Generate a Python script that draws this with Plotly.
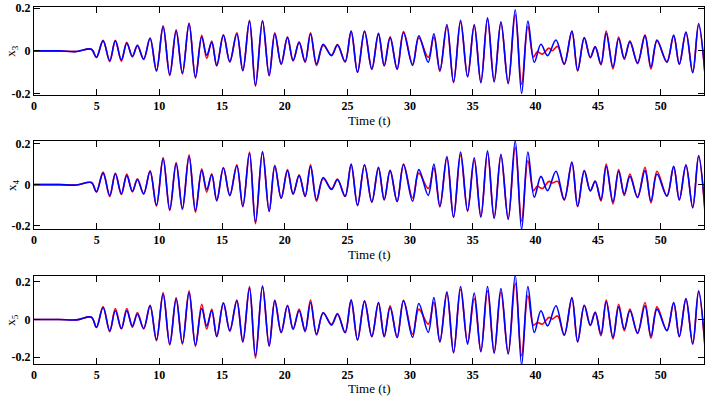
import plotly.graph_objects as go
from plotly.subplots import make_subplots

# --- データ（ピーク・谷の読み取り値） ---
# 共通の時刻（発散区間の前後）
t_pre = [0, 2.0, 3.4, 4.58, 4.98, 5.51, 6.04, 6.49, 6.97, 7.40, 7.85, 8.25, 8.75, 9.26,
         9.77, 10.30, 10.83, 11.34, 11.84, 12.37, 12.88, 13.38, 13.78, 14.18,
         14.58, 15.11, 15.62, 16.18, 16.66, 17.19, 17.67, 18.23, 18.76, 19.21,
         19.72, 20.22, 20.67, 21.15, 21.63, 22.06, 22.54, 23.07, 23.73, 24.21,
         24.82, 25.30, 25.81, 26.37, 26.95, 27.48, 27.94, 28.41, 28.97, 29.48,
         30.20, 30.70, 31.45, 31.90, 32.38, 32.94, 33.47, 34.03, 34.59, 35.12,
         35.65, 36.18, 36.71, 37.25, 37.83, 38.39, 38.90, 39.40]
t_post = [42.30, 42.91, 43.37, 43.90, 44.38, 44.77, 45.23, 45.65, 46.19, 46.64, 47.09,
          47.54, 48.15, 48.74, 49.22, 49.70, 50.49, 51.03, 51.48, 52.01, 52.55, 53.02, 53.53]
# 40 付近で赤と青が離れる区間
t_mid_blue = [39.91, 40.44, 40.97, 41.64]
t_mid_red = [39.85, 40.15, 40.55, 41.08, 41.35, 41.77]

# x3
x3_blue_pre = [0, 0, -0.003, 0.008, -0.03, 0.047, -0.045, 0.047, -0.042, 0.036,
               -0.025, 0.024, -0.038, 0.059, -0.091, 0.113, -0.111, 0.093, -0.103, 0.126,
               -0.122, 0.065, -0.02, 0.04, -0.068, 0.073, -0.05, 0.08, -0.091, 0.139,
               -0.16, 0.139, -0.114, 0.08, -0.061, 0.062, -0.045, 0.039, -0.05, 0.08,
               -0.061, 0.031, -0.022, 0.027, -0.05, 0.093, -0.099, 0.093, -0.084, 0.082,
               -0.068, 0.062, -0.084, 0.085, -0.068, 0.07, -0.053, 0.08, -0.091, 0.123,
               -0.145, 0.143, -0.122, 0.123, -0.149, 0.154, -0.145, 0.136, -0.153, 0.192,
               -0.199, 0.139]
x3_red_pre = [0, 0, -0.003, 0.008, -0.03, 0.05, -0.05, 0.05, -0.048, 0.04,
              -0.028, 0.027, -0.04, 0.06, -0.095, 0.117, -0.115, 0.098, -0.108, 0.13,
              -0.127, 0.073, -0.035, 0.046, -0.07, 0.075, -0.052, 0.085, -0.093, 0.143,
              -0.165, 0.142, -0.116, 0.085, -0.063, 0.066, -0.047, 0.042, -0.053, 0.085,
              -0.068, 0.025, -0.02, 0.03, -0.052, 0.09, -0.1, 0.09, -0.086, 0.078,
              -0.07, 0.066, -0.086, 0.09, -0.062, 0.06, -0.03, 0.065, -0.095, 0.115,
              -0.148, 0.135, -0.118, 0.118, -0.145, 0.148, -0.14, 0.13, -0.148, 0.169,
              -0.155, 0.114]
x3_blue_mid = [-0.053, 0.031, -0.022, 0.051]
x3_red_mid = [-0.028, -0.004, -0.015, 0.013, 0.001, 0.021]
x3_blue_post = [-0.061, 0.093, -0.091, 0.062, -0.03, 0.019, -0.061, 0.082, -0.076, 0.057,
                -0.034, 0.042, -0.056, 0.07, -0.076, 0.051, -0.053, 0.074, -0.061, 0.088,
                -0.102, 0.128, -0.107]
x3_red_post = [-0.063, 0.09, -0.093, 0.06, -0.032, 0.02, -0.065, 0.093, -0.084, 0.065,
               -0.04, 0.047, -0.06, 0.075, -0.084, 0.046, -0.05, 0.07, -0.063, 0.085,
               -0.1, 0.12, -0.112]

# x4
x4_blue_pre = [0, 0, -0.002, 0.01, -0.035, 0.056, -0.052, 0.052, -0.044, 0.044,
               -0.032, 0.024, -0.044, 0.065, -0.1, 0.126, -0.121, 0.102, -0.116, 0.137,
               -0.126, 0.068, -0.024, 0.048, -0.077, 0.081, -0.052, 0.092, -0.105, 0.153,
               -0.181, 0.158, -0.129, 0.089, -0.065, 0.068, -0.045, 0.044, -0.056, 0.089,
               -0.073, 0.035, -0.024, 0.024, -0.056, 0.1, -0.1, 0.097, -0.084, 0.084,
               -0.073, 0.068, -0.081, 0.097, -0.081, 0.073, -0.052, 0.1, -0.105, 0.137,
               -0.158, 0.158, -0.126, 0.13, -0.158, 0.165, -0.165, 0.148, -0.169, 0.213,
               -0.218, 0.158]
x4_red_pre = [0, 0, -0.002, 0.01, -0.035, 0.061, -0.058, 0.056, -0.048, 0.052,
              -0.035, 0.029, -0.046, 0.067, -0.104, 0.132, -0.126, 0.108, -0.121, 0.145,
              -0.134, 0.077, -0.037, 0.053, -0.079, 0.083, -0.054, 0.097, -0.107, 0.158,
              -0.19, 0.161, -0.131, 0.094, -0.067, 0.073, -0.047, 0.048, -0.058, 0.097,
              -0.081, 0.03, -0.02, 0.027, -0.058, 0.097, -0.102, 0.094, -0.086, 0.08,
              -0.075, 0.07, -0.083, 0.1, -0.065, 0.056, -0.019, 0.081, -0.108, 0.13,
              -0.16, 0.145, -0.13, 0.12, -0.155, 0.155, -0.16, 0.14, -0.165, 0.181,
              -0.177, 0.116]
x4_blue_mid = [-0.061, 0.04, -0.029, 0.065]
x4_red_mid = [-0.029, -0.008, -0.019, 0.016, 0.008, 0.016]
x4_blue_post = [-0.073, 0.11, -0.105, 0.068, -0.029, 0.016, -0.073, 0.089, -0.084, 0.065,
                -0.045, 0.04, -0.061, 0.068, -0.081, 0.052, -0.056, 0.089, -0.073, 0.097,
                -0.113, 0.142, -0.121]
x4_red_post = [-0.075, 0.105, -0.107, 0.066, -0.031, 0.018, -0.079, 0.1, -0.094, 0.073,
               -0.053, 0.052, -0.064, 0.084, -0.089, 0.065, -0.054, 0.085, -0.075, 0.093,
               -0.11, 0.135, -0.137]

# x5
x5_blue_pre = [0, 0, -0.002, 0.012, -0.042, 0.064, -0.06, 0.046, -0.048, 0.046,
               -0.034, 0.028, -0.048, 0.073, -0.108, 0.134, -0.131, 0.108, -0.126, 0.143,
               -0.136, 0.058, -0.034, 0.046, -0.09, 0.087, -0.06, 0.099, -0.118, 0.167,
               -0.193, 0.175, -0.14, 0.099, -0.069, 0.073, -0.051, 0.046, -0.06, 0.09,
               -0.078, 0.037, -0.03, 0.028, -0.069, 0.104, -0.108, 0.099, -0.09, 0.09,
               -0.09, 0.064, -0.095, 0.099, -0.095, 0.085, -0.069, 0.117, -0.118, 0.147,
               -0.175, 0.175, -0.131, 0.14, -0.172, 0.175, -0.179, 0.164, -0.184, 0.235,
               -0.242, 0.175]
x5_red_pre = [0, 0, -0.002, 0.012, -0.042, 0.069, -0.065, 0.058, -0.051, 0.058,
              -0.042, 0.037, -0.05, 0.075, -0.113, 0.143, -0.136, 0.117, -0.131, 0.152,
              -0.143, 0.081, -0.051, 0.055, -0.092, 0.089, -0.062, 0.103, -0.12, 0.175,
              -0.205, 0.179, -0.142, 0.103, -0.071, 0.076, -0.053, 0.055, -0.065, 0.103,
              -0.083, 0.033, -0.026, 0.031, -0.071, 0.1, -0.11, 0.095, -0.092, 0.086,
              -0.092, 0.073, -0.097, 0.102, -0.078, 0.055, -0.025, 0.09, -0.12, 0.14,
              -0.178, 0.161, -0.122, 0.111, -0.168, 0.152, -0.175, 0.147, -0.18, 0.193,
              -0.193, 0.126]
x5_blue_mid = [-0.069, 0.046, -0.034, 0.073]
x5_red_mid = [-0.03, -0.016, -0.025, 0.011, 0.002, 0.019]
x5_blue_post = [-0.083, 0.117, -0.118, 0.076, -0.03, 0.037, -0.078, 0.094, -0.095, 0.067,
                -0.051, 0.046, -0.072, 0.073, -0.09, 0.055, -0.06, 0.09, -0.09, 0.111,
                -0.131, 0.152, -0.14]
x5_red_post = [-0.085, 0.112, -0.12, 0.074, -0.032, 0.039, -0.087, 0.103, -0.104, 0.081,
               -0.06, 0.055, -0.075, 0.09, -0.1, 0.067, -0.058, 0.086, -0.092, 0.108,
               -0.128, 0.145, -0.154]

y_labels = ["x<sub>3</sub>", "x<sub>4</sub>", "x<sub>5</sub>"]
x_ticks = [0, 5, 10, 15, 20, 25, 30, 35, 40, 45, 50]
y_ticks = [-0.2, 0, 0.2]

panels = [
    (x3_blue_pre, x3_blue_mid, x3_blue_post, x3_red_pre, x3_red_mid, x3_red_post),
    (x4_blue_pre, x4_blue_mid, x4_blue_post, x4_red_pre, x4_red_mid, x4_red_post),
    (x5_blue_pre, x5_blue_mid, x5_blue_post, x5_red_pre, x5_red_mid, x5_red_post),
]
y_ranges = [[-0.205, 0.205], [-0.216, 0.212], [-0.237, 0.233]]
domains = [[0.754, 1.0], [0.378, 0.6245], [0.0, 0.2474]]
title_y = [0.683, 0.307, -0.070]

fig = make_subplots(rows=3, cols=1)

tick_font = dict(family="Liberation Serif", size=12, color="black", weight="bold")

for i, (bp, bm, bq, rp, rm, rq) in enumerate(panels):
    row = i + 1
    fig.add_trace(go.Scatter(x=t_pre + t_mid_red + t_post, y=rp + rm + rq, mode="lines",
                             line=dict(color="#ff0000", width=1.6, shape="spline"),
                             showlegend=False), row=row, col=1)
    fig.add_trace(go.Scatter(x=t_pre + t_mid_blue + t_post, y=bp + bm + bq, mode="lines",
                             line=dict(color="#0000ff", width=1.6, shape="spline"),
                             showlegend=False), row=row, col=1)
    fig.update_xaxes(range=[0, 53.45], tickvals=x_ticks, ticks="inside", ticklen=6,
                     tickcolor="black", showline=True, linecolor="black", linewidth=1,
                     mirror="ticks", showgrid=False, zeroline=False, tickfont=tick_font,
                     ticklabeloverflow="allow", row=row, col=1)
    fig.update_yaxes(range=y_ranges[i], tickvals=y_ticks, ticktext=["-0.2", "0", "0.2"],
                     ticks="inside", ticklen=6, tickcolor="black", showline=True,
                     linecolor="black", linewidth=1, mirror="ticks", showgrid=False,
                     zeroline=False, domain=domains[i], tickfont=tick_font,
                     ticklabeloverflow="allow", row=row, col=1)
    yc = (domains[i][0] + domains[i][1]) / 2
    fig.add_annotation(text=y_labels[i], xref="paper", yref="paper", x=-0.033, y=yc,
                       textangle=-90, showarrow=False, xanchor="center", yanchor="middle",
                       font=dict(family="Liberation Serif", size=13, color="black"))
    fig.add_annotation(text="Time (t)", xref="paper", yref="paper", x=0.5, y=title_y[i],
                       showarrow=False, xanchor="center", yanchor="middle",
                       font=dict(family="Liberation Serif", size=13, color="black"))

fig.update_layout(width=706, height=396, margin=dict(l=34, r=1, t=5, b=32),
                  plot_bgcolor="white", paper_bgcolor="white")

# ページ余白をなくし、モードバーを消す
fig.write_html("out.html", config={"displayModeBar": False},
               post_script="document.body.style.margin='0';")
